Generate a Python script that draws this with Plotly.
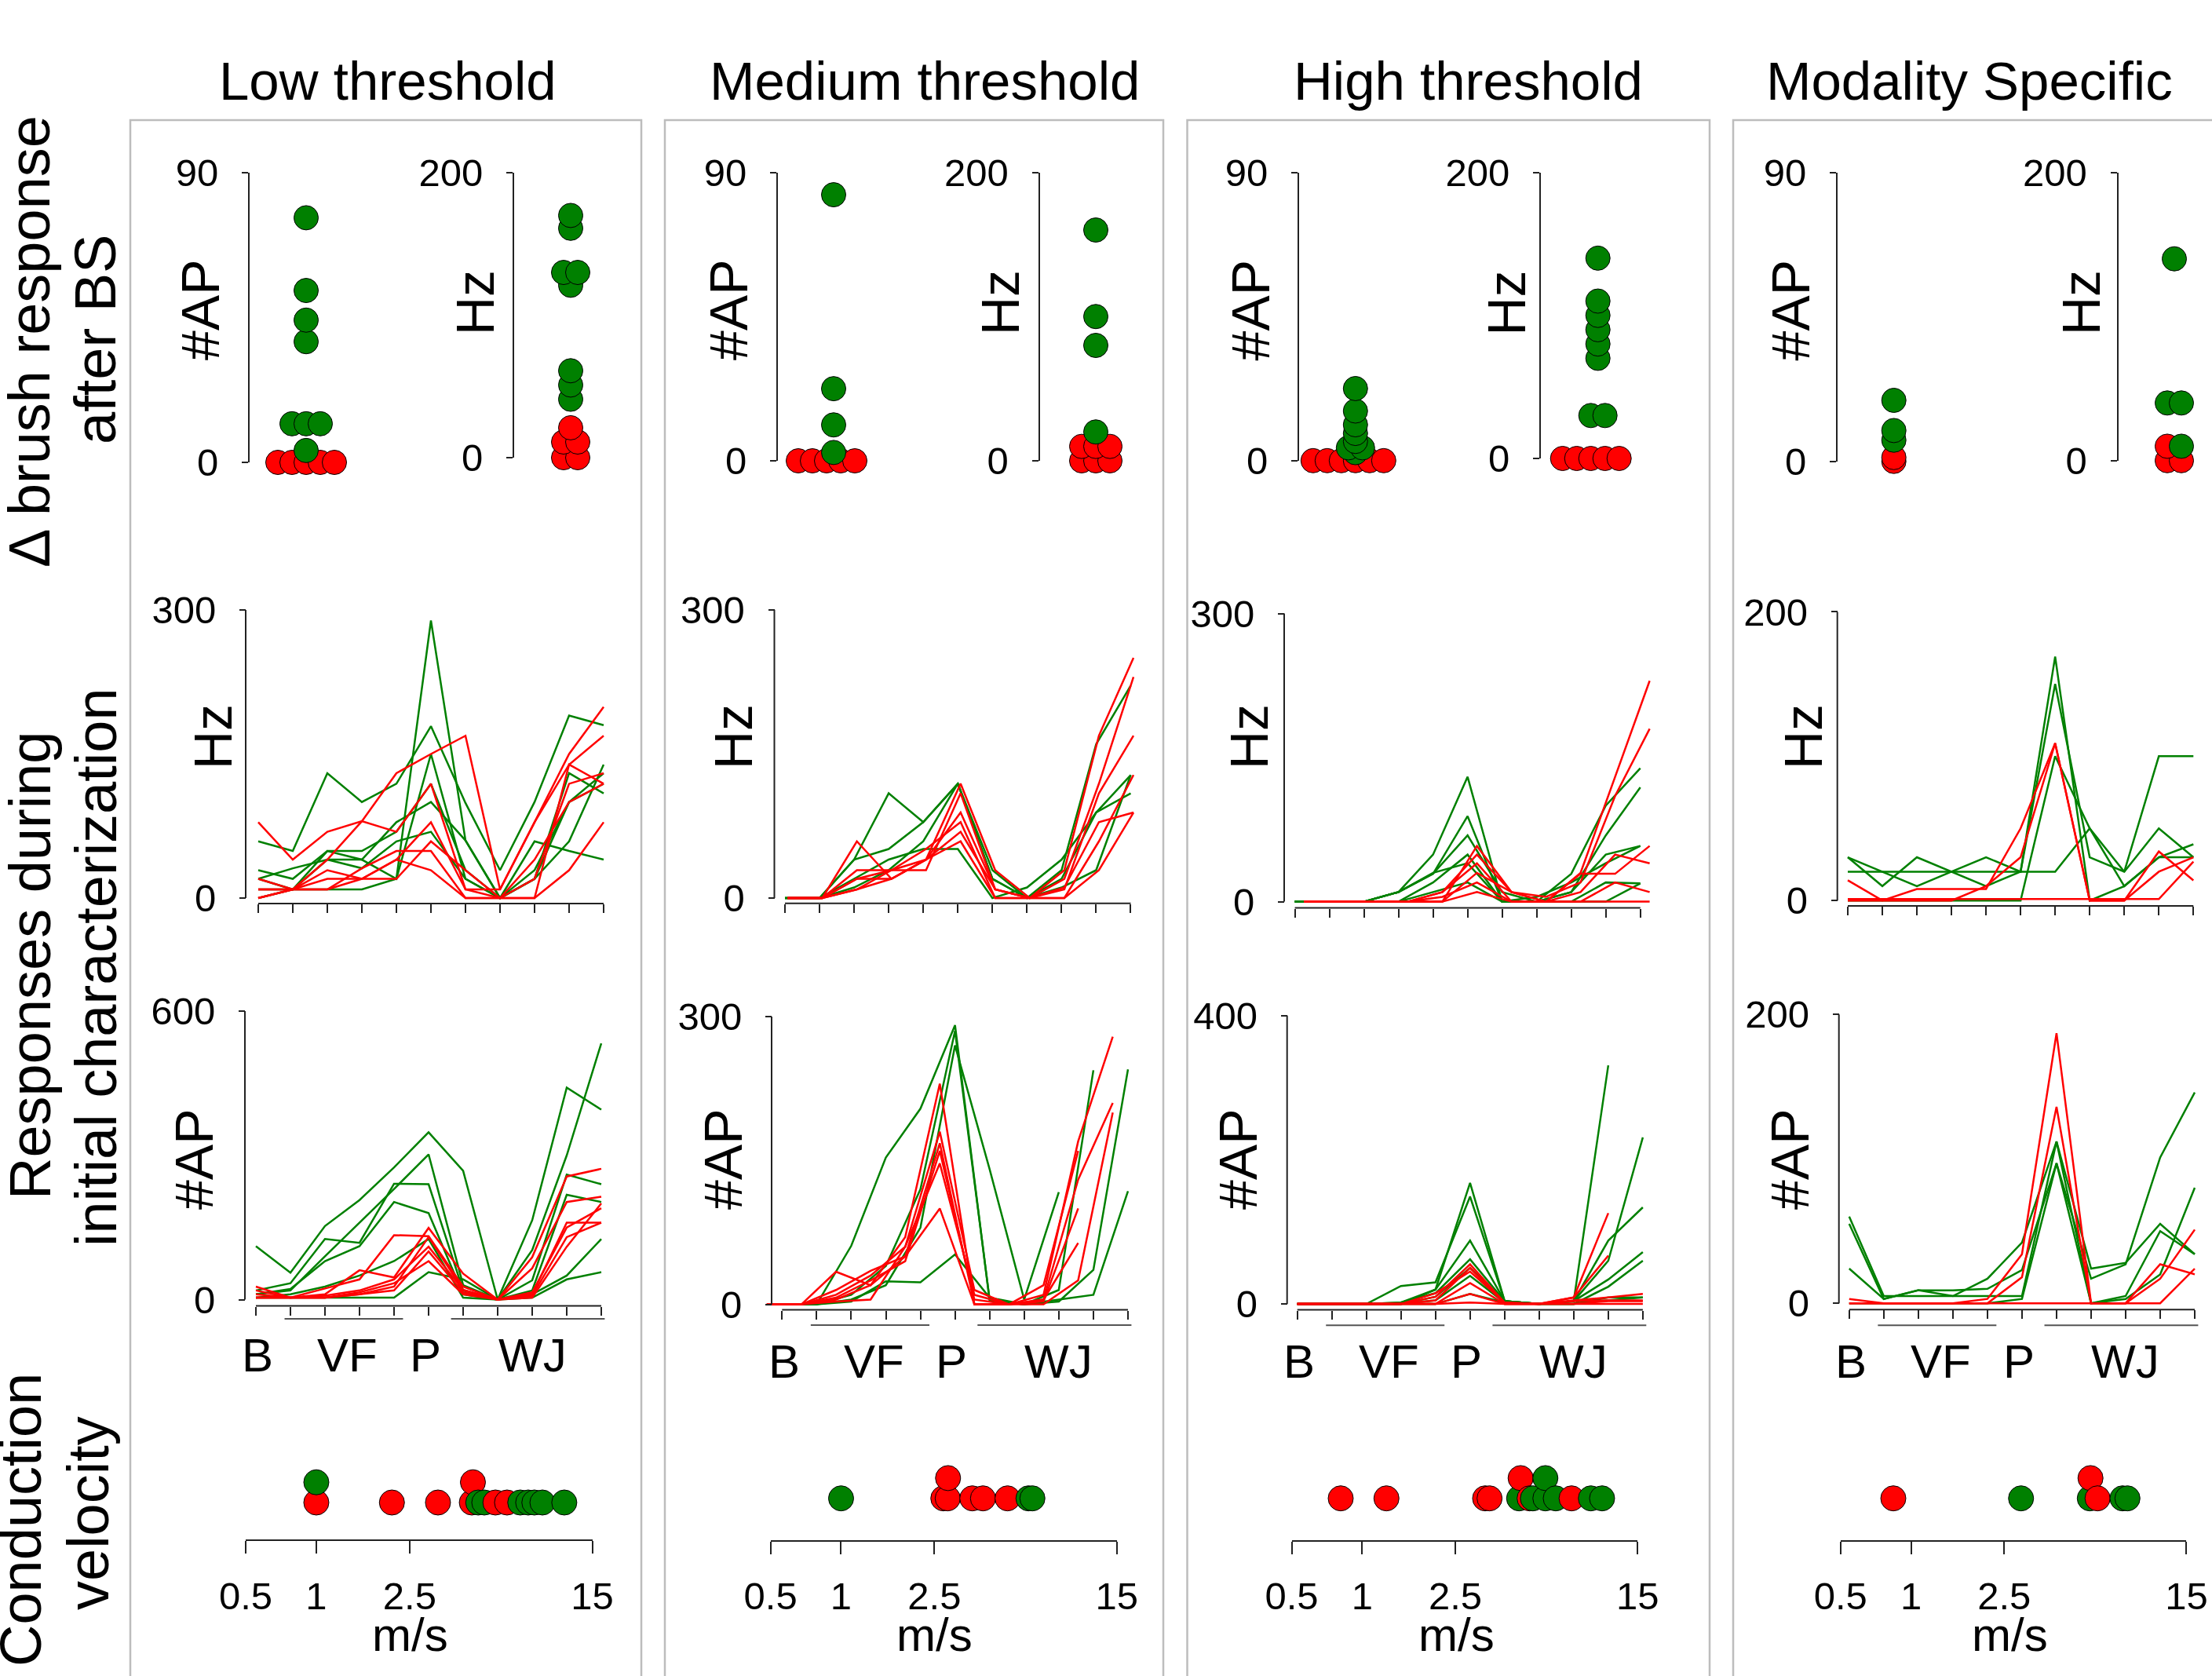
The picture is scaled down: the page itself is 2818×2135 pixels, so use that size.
import math
import plotly.graph_objects as go

# ======================= DATA =======================
COLUMN_TITLES = ["Low threshold", "Medium threshold", "High threshold", "Modality Specific"]
ROW_LABELS = [["Δ brush response", "after BS"],
              ["Responses during", "initial characterization"],
              ["Conduction", "velocity"]]
STIM_POS = list(range(1, 12))          # B, VF x4, P, WJ x5
STIM_LABELS = ["B", "VF", "P", "WJ"]
CV_TICKS = [0.5, 1, 2.5, 15]
CV_TICKTEXT = ["0.5", "1", "2.5", "15"]
AP_TOP = 90
HZ_TOP = 200
HZ_LINE_TOP = [300, 300, 300, 200]
AP_LINE_TOP = [600, 300, 400, 200]

# --- row 1 : change of brush response after BS ---
LOW_AP_GREEN = [76, 53.4, 44.2, 37.5, 12, 12, 12, 3.7]
LOW_AP_RED = [0, 0, 0, 0, 0, -1, -3]
LOW_HZ_GREEN = [170, 161, 130, 130, 121, 61, 51, 41]
LOW_HZ_RED = [21, 11, 11, 0, 0, -20, -30]
MED_AP_GREEN = [83, 22.5, 11.2, 2.6]
MED_AP_RED = [0, 0, 0, 0, 0, 0]
MED_HZ_GREEN = [160, 100, 80, 20]
MED_HZ_RED = [10, 10, 10, 0, 0, 0]
HIGH_AP_GREEN = [22.5, 15.5, 11.2, 8.5, 6.0, 4.0, 4.0, 2.5]
HIGH_AP_RED = [0, 0, 0, 0, 0, 0, 0]
HIGH_HZ_GREEN = [140, 110, 100, 90, 80, 70, 30, 30]
HIGH_HZ_RED = [0, 0, 0, 0, 0, 0, -10]
MOD_AP_GREEN = [19, 9.6, 6.6]
MOD_AP_RED = [1.2, 0]
MOD_HZ_GREEN = [140, 40, 40, 10]
MOD_HZ_RED = [10, 0, 0]

# --- row 2 : Hz during initial characterization ---
LOW_HZ_GREEN_LINES = [
    [59, 49, 130, 100, 119, 179, 99, 29, 100, 190, 180],
    [20, 9, 40, 40, 20, 289, 60, 0, 20, 100, 130],
    [29, 20, 49, 40, 79, 100, 60, 0, 20, 130, 109],
    [20, 31, 40, 31, 59, 69, 20, 0, 59, 49, 40],
    [0, 9, 9, 9, 20, 150, 20, 0, 20, 59, 139],
    [9, 9, 49, 49, 69, 119, 29, 0, 29, 100, 119],
]
LOW_HZ_RED_LINES = [
    [79, 40, 69, 80, 69, 119, 9, 9, 79, 139, 169],
    [9, 9, 40, 80, 130, 150, 169, 9, 79, 150, 199],
    [0, 9, 29, 20, 40, 79, 9, 0, 20, 119, 130],
    [20, 9, 20, 20, 20, 59, 29, 0, 0, 139, 119],
    [0, 9, 9, 31, 49, 49, 0, 0, 0, 29, 79],
    [9, 9, 9, 20, 40, 29, 0, 0, 40, 100, 119],
]
MED_HZ_GREEN_LINES = [
    [0, 0, 40, 109, 79, 119, 20, 0, 29, 160, 221],
    [0, 0, 40, 51, 79, 119, 29, 0, 20, 89, 109],
    [0, 0, 20, 40, 51, 51, 0, 11, 40, 89, 128],
    [0, 0, 11, 29, 59, 119, 20, 0, 11, 29, 128],
]
MED_HZ_RED_LINES = [
    [0, 0, 59, 20, 40, 119, 29, 0, 29, 169, 250],
    [0, 0, 29, 29, 29, 109, 9, 0, 20, 119, 230],
    [0, 0, 20, 20, 40, 89, 9, 0, 9, 109, 169],
    [0, 0, 9, 29, 51, 79, 0, 0, 0, 59, 128],
    [0, 0, 20, 29, 40, 69, 9, 0, 11, 79, 89],
    [0, 0, 9, 20, 40, 59, 0, 0, 0, 29, 89],
]
HIGH_HZ_GREEN_LINES = [
    [0, 0, 0, 10, 49, 130, 0, 0, 29, 100, 139],
    [0, 0, 0, 10, 29, 89, 0, 0, 10, 69, 119],
    [0, 0, 0, 10, 29, 69, 10, 0, 10, 49, 58],
    [0, 0, 0, 0, 20, 49, 0, 5, 20, 40, 58],
    [0, 0, 0, 10, 30, 40, 0, 0, 0, 20, 19],
    [0, 0, 0, 0, 10, 20, 0, 0, 0, 0, 19],
]
HIGH_HZ_RED_LINES = [
    [0, 0, 0, 0, 0, 58, 10, 0, 30, 130, 230],
    [0, 0, 0, 0, 10, 49, 10, 5, 20, 110, 180],
    [0, 0, 0, 0, 0, 30, 10, 0, 29, 29, 58],
    [0, 0, 0, 0, 10, 40, 0, 0, 10, 49, 40],
    [0, 0, 0, 0, 5, 20, 0, 0, 0, 20, 10],
    [0, 0, 0, 0, 0, 10, 0, 0, 0, 0, 0],
]
MOD_HZ_GREEN_LINES = [
    [30, 10, 30, 20, 10, 20, 169, 0, 10, 30, 30],
    [20, 20, 20, 20, 20, 20, 20, 50, 10, 30, 39],
    [30, 20, 10, 20, 30, 20, 150, 30, 20, 50, 30],
    [0, 0, 0, 0, 0, 0, 100, 50, 20, 100, 100],
]
MOD_HZ_RED_LINES = [
    [14, 0, 8, 8, 8, 50, 109, 0, 0, 20, 30],
    [0, 0, 0, 0, 10, 30, 109, 0, 0, 34, 14],
    [1, 1, 1, 1, 1, 1, 1, 1, 1, 1, 27],
]

# --- row 3 : #AP during initial characterization ---
LOW_AP_GREEN_LINES = [
    [111, 56, 153, 207, 275, 348, 268, 0, 165, 441, 395],
    [19, 34, 126, 118, 241, 240, 19, 0, 103, 300, 533],
    [11, 22, 80, 111, 203, 180, 11, 0, 19, 218, 203],
    [4, 11, 27, 50, 80, 126, 4, 0, 11, 50, 126],
    [4, 4, 4, 4, 4, 57, 42, 0, 4, 42, 57],
    [11, 19, 90, 160, 230, 302, 30, 0, 40, 260, 240],
]
LOW_AP_RED_LINES = [
    [27, 4, 11, 61, 46, 149, 54, 0, 88, 256, 272],
    [19, 4, 23, 42, 134, 132, 27, 0, 65, 203, 214],
    [4, 4, 4, 11, 27, 130, 20, 0, 11, 160, 160],
    [4, 4, 4, 11, 19, 100, 15, 0, 8, 130, 160],
    [11, 4, 4, 15, 34, 80, 11, 0, 4, 110, 200],
    [4, 4, 8, 19, 42, 110, 20, 0, 15, 150, 190],
]
MED_AP_GREEN_LINES = [
    [0, 0, 61, 153, 204, 291, 4, 0, 3, 36, 245],
    [0, 0, 10, 40, 120, 285, 5, 0, 15, 244, None],
    [0, 0, 3, 24, 23, 52, 7, 0, 5, 10, 118],
    [0, 0, 5, 20, 80, 270, 141, 5, 117, None, None],
]
MED_AP_RED_LINES = [
    [0, 0, 34, 20, 70, 230, 0, 0, 10, 170, 279],
    [0, 0, 10, 30, 60, 180, 15, 0, 20, 160, None],
    [0, 0, 5, 20, 50, 168, 0, 0, 5, 130, 210],
    [0, 0, 3, 5, 60, 147, 10, 0, 3, 100, None],
    [0, 0, 15, 35, 50, 100, 0, 0, 0, 25, 200],
    [0, 0, 7, 25, 45, 160, 5, 0, 5, 64, None],
]
HIGH_AP_GREEN_LINES = [
    [0, 0, 0, 0, 20, 168, 4, 0, 4, 331, None],
    [0, 0, 0, 25, 30, 149, 4, 0, 4, 60, 231],
    [0, 0, 0, 2, 20, 88, 4, 0, 4, 88, 134],
    [0, 0, 0, 2, 15, 62, 4, 0, 4, 34, 72],
    [0, 0, 0, 0, 10, 50, 4, 0, 0, 24, 60],
    [0, 0, 0, 0, 5, 39, 2, 0, 0, 9, 9],
    [0, 0, 0, 0, 0, 14, 2, 0, 0, 5, 9],
]
HIGH_AP_RED_LINES = [
    [0, 0, 0, 0, 10, 55, 2, 0, 9, 126, None],
    [0, 0, 0, 0, 5, 50, 0, 0, 9, 67, None],
    [0, 0, 0, 0, 15, 45, 2, 0, 5, 9, 14],
    [0, 0, 0, 0, 0, 29, 0, 0, 4, 5, 5],
    [0, 0, 0, 0, 0, 14, 0, 0, 0, 4, 4],
    [0, 0, 0, 0, 0, 2, 0, 0, 0, 0, 0],
]
MOD_AP_GREEN_LINES = [
    [60, 5, 5, 5, 5, 5, 112, 0, 5, 50, 34],
    [55, 3, 9, 5, 17, 42, 112, 24, 28, 55, 34],
    [24, 3, 9, 9, 10, 23, 97, 17, 27, 101, 146],
    [0, 0, 0, 0, 0, 3, 97, 0, 3, 20, 80],
]
MOD_AP_RED_LINES = [
    [3, 0, 0, 0, 3, 34, 187, 0, 0, 27, 20],
    [0, 0, 0, 0, 0, 18, 136, 0, 0, 17, 51],
    [0, 0, 0, 0, 0, 0, 0, 0, 0, 0, 24],
]

# --- row 4 : conduction velocity (m/s) ---
LOW_CV_GREEN = [1.0, 4.9, 5.2, 7.4, 8.0, 8.5, 9.2, 11.4]
LOW_CV_RED = [1.0, 2.1, 3.3, 4.6, 4.65, 5.8, 6.5]
MED_CV_GREEN = [1.0, 6.3, 6.55]
MED_CV_RED = [2.73, 2.85, 2.86, 3.63, 4.03, 5.13]
HIGH_CV_GREEN = [4.68, 5.36, 6.06, 6.06, 6.71, 9.48, 10.58]
HIGH_CV_RED = [0.81, 1.27, 3.35, 3.5, 4.75, 5.19, 7.84]
MOD_CV_GREEN = [2.95, 5.8, 8.0, 8.4]
MOD_CV_RED = [0.84, 5.84, 6.26]

COLUMNS = [
    dict(ap=(LOW_AP_GREEN, LOW_AP_RED), hz=(LOW_HZ_GREEN, LOW_HZ_RED),
         hzl=(LOW_HZ_GREEN_LINES, LOW_HZ_RED_LINES), apl=(LOW_AP_GREEN_LINES, LOW_AP_RED_LINES),
         cv=(LOW_CV_GREEN, LOW_CV_RED)),
    dict(ap=(MED_AP_GREEN, MED_AP_RED), hz=(MED_HZ_GREEN, MED_HZ_RED),
         hzl=(MED_HZ_GREEN_LINES, MED_HZ_RED_LINES), apl=(MED_AP_GREEN_LINES, MED_AP_RED_LINES),
         cv=(MED_CV_GREEN, MED_CV_RED)),
    dict(ap=(HIGH_AP_GREEN, HIGH_AP_RED), hz=(HIGH_HZ_GREEN, HIGH_HZ_RED),
         hzl=(HIGH_HZ_GREEN_LINES, HIGH_HZ_RED_LINES), apl=(HIGH_AP_GREEN_LINES, HIGH_AP_RED_LINES),
         cv=(HIGH_CV_GREEN, HIGH_CV_RED)),
    dict(ap=(MOD_AP_GREEN, MOD_AP_RED), hz=(MOD_HZ_GREEN, MOD_HZ_RED),
         hzl=(MOD_HZ_GREEN_LINES, MOD_HZ_RED_LINES), apl=(MOD_AP_GREEN_LINES, MOD_AP_RED_LINES),
         cv=(MOD_CV_GREEN, MOD_CV_RED)),
]

# ======================= STYLE / GEOMETRY (pixels) =======================
W, H = 2818, 2135
FONT = "Liberation Sans, Arial, Helvetica, sans-serif"
GREEN = "#008000"
RED = "#FF0000"
AXC = "#222222"
BOXC = "#BDBDBD"
MSIZE = 31
SWARM_STEP = 18
TICK_FONT = 49
TITLE_FONT = 69
ROW_FONT = 74
AXT_FONT = 68
CAT_FONT = 60
Y_STANDOFF = 20
X_STANDOFF = 12

GEO = [
    dict(box=(166, 817), title_x=494,
         ap_ax=317, ap_pts=390, ap_y0=589, ap_yt=220, ap_lab=255,
         hz_ax=654, hz_pts=727, hz_y0=583, hz_yt=220, hz_lab=605,
         r2_yax=313, r2_y0=1144, r2_yt=777, r2_xax=1151, r2_xt=(329, 769), r2_lab=271, r2_shift=0.0,
         r3_yax=312, r3_y0=1655.5, r3_yt=1288, r3_xax=1663.5, r3_xt=(326, 766), r3_lab=247, r3_shift=0.0,
         cat_y=1726, uline_y=1680,
         cv_ax=1962, cv_x=(313, 754.5), cv_base=1914, mps_x=522),
    dict(box=(847, 1482), title_x=1178,
         ap_ax=990, ap_pts=1062, ap_y0=587, ap_yt=219.5, ap_lab=928,
         hz_ax=1323.6, hz_pts=1396, hz_y0=587, hz_yt=219.5, hz_lab=1274,
         r2_yax=986.5, r2_y0=1144, r2_yt=776.7, r2_xax=1150.8, r2_xt=(1000, 1440.5), r2_lab=934, r2_shift=0.08,
         r3_yax=983, r3_y0=1661.6, r3_yt=1295, r3_xax=1668.6, r3_xt=(996.3, 1437), r3_lab=921, r3_shift=-0.44,
         cat_y=1734, uline_y=1688,
         cv_ax=1962.6, cv_x=(981.6, 1422.7), cv_base=1908.7, mps_x=1190.5),
    dict(box=(1512.5, 2178), title_x=1870,
         ap_ax=1654, ap_pts=1726.8, ap_y0=586.8, ap_yt=219.5, ap_lab=1592.5,
         hz_ax=1962, hz_pts=2035.7, hz_y0=584, hz_yt=219.5, hz_lab=1918.5,
         r2_yax=1636, r2_y0=1148.6, r2_yt=781.6, r2_xax=1156.6, r2_xt=(1649.6, 2089.7), r2_lab=1591, r2_shift=0.27,
         r3_yax=1639.7, r3_y0=1661.1, r3_yt=1293.7, r3_xax=1668.6, r3_xt=(1652.7, 2092.9), r3_lab=1577, r3_shift=0.0,
         cat_y=1734, uline_y=1688.3,
         cv_ax=1962.6, cv_x=(1645.5, 2086.2), cv_base=1908.7, mps_x=1855.6),
    dict(box=(2208, 2840), title_x=2509,
         ap_ax=2340, ap_pts=2412.7, ap_y0=587.7, ap_yt=219.5, ap_lab=2280.5,
         hz_ax=2697.5, hz_pts=2770, hz_y0=586.8, hz_yt=219.5, hz_lab=2651,
         r2_yax=2340.7, r2_y0=1147.2, r2_yt=779.4, r2_xax=1154, r2_xt=(2354, 2794.3), r2_lab=2297, r2_shift=0.0,
         r3_yax=2342.7, r3_y0=1660.2, r3_yt=1292.3, r3_xax=1668.2, r3_xt=(2355.8, 2796), r3_lab=2280, r3_shift=0.0,
         cat_y=1734, uline_y=1688.3,
         cv_ax=1962.6, cv_x=(2344.8, 2785.4), cv_base=1908.7, mps_x=2560.4),
]
CAT_X = [1.05, 3.65, 5.9, 9.0]
ULINES = [(1.83, 5.26), (6.65, 11.1)]

# ======================= BUILD =======================
fig = go.Figure()
lay = {}
shapes = []
annos = []
n_ax = [0]


def PX(x):
    return min(max(x / W, 0.0), 1.0)


def PXU(x):
    return x / W


def PY(y):
    return 1 - y / H


def new_pair(xa, ya):
    n_ax[0] += 1
    s = "" if n_ax[0] == 1 else str(n_ax[0])
    xa.setdefault("anchor", "y" + s)
    ya.setdefault("anchor", "x" + s)
    lay["xaxis" + s] = xa
    lay["yaxis" + s] = ya
    return "x" + s, "y" + s


BASE = dict(showgrid=False, zeroline=False, fixedrange=True, automargin=False)
TFONT = dict(family=FONT, size=TICK_FONT, color="black")


def text(x, y, t, size, angle=0, xref="paper", yref="paper"):
    annos.append(dict(x=x, y=y, xref=xref, yref=yref, text=t, showarrow=False,
                      textangle=angle, xanchor="center", yanchor="middle",
                      font=dict(family=FONT, size=size, color="black")))


def strip(axis_x, pts_x, y0, yt, top, green, red):
    ppu = (y0 - yt) / top
    pts = [(v, RED) for v in red] + [(v, GREEN) for v in green]
    pts.sort(key=lambda p: p[0])
    groups = []
    for v, c in pts:
        if groups and abs(v - groups[-1][0][0]) * ppu < 3:
            groups[-1].append((v, c))
        else:
            groups.append([(v, c)])
    xs, ys, cs = [], [], []
    for grp in groups:
        n = len(grp)
        for i, (v, c) in enumerate(grp):
            xs.append((i - (n - 1) / 2) * SWARM_STEP)
            ys.append(v)
            cs.append(c)
    xl, xr_ = axis_x, min(axis_x + 115, W - 1)
    xa = dict(BASE, visible=False, domain=[PX(xl), PX(xr_)], range=[xl - pts_x, xr_ - pts_x])
    ya = dict(BASE, domain=[PY(y0), PY(yt)], range=[0, top], anchor="free", position=PX(axis_x),
              showline=True, linecolor=AXC, linewidth=2, ticks="outside", ticklen=8, tickwidth=2,
              tickcolor=AXC, tickvals=[0, top], ticktext=[str(0), str(top)], tickfont=TFONT,
              ticklabelstandoff=Y_STANDOFF)
    xr, yr = new_pair(xa, ya)
    fig.add_trace(go.Scatter(x=xs, y=ys, mode="markers", xaxis=xr, yaxis=yr, cliponaxis=False,
                             marker=dict(size=MSIZE, color=cs, line=dict(color="black", width=1)),
                             hoverinfo="skip", showlegend=False))


def line_panel(yax, y0, yt, top, xax, xt, greens, reds, shift):
    ppu = (y0 - yt) / top
    dx = (xt[1] - xt[0]) / 10
    pl = 0.5
    pr = min(0.45, (W - 1 - xt[1]) / dx)
    xa = dict(BASE, domain=[PX(xt[0] - pl * dx), PX(xt[1] + pr * dx)], range=[1 - pl, 11 + pr],
              anchor="free", position=PY(xax), ticks="outside", ticklen=11, tickwidth=2, tickcolor=AXC,
              tickvals=STIM_POS, showticklabels=False, showline=False)
    ya = dict(BASE, domain=[PY(y0 + 6), PY(yt - 6)], range=[-6 / ppu, top + 6 / ppu],
              anchor="free", position=PX(yax), ticks="outside", ticklen=8, tickwidth=2, tickcolor=AXC,
              tickvals=[0, top], ticktext=[str(0), str(top)], tickfont=TFONT,
              ticklabelstandoff=Y_STANDOFF, showline=False)
    xr, yr = new_pair(xa, ya)
    for vals in greens:
        fig.add_trace(go.Scatter(x=STIM_POS, y=vals, mode="lines", xaxis=xr, yaxis=yr,
                                 line=dict(color=GREEN, width=2.5), hoverinfo="skip", showlegend=False))
    for vals in reds:
        fig.add_trace(go.Scatter(x=[p + shift for p in STIM_POS], y=vals, mode="lines", xaxis=xr, yaxis=yr,
                                 line=dict(color=RED, width=2.5), hoverinfo="skip", showlegend=False))
    shapes.append(dict(type="line", xref=xr, yref="paper", x0=STIM_POS[0], x1=STIM_POS[-1],
                       y0=PY(xax), y1=PY(xax), line=dict(color=AXC, width=2)))
    shapes.append(dict(type="line", xref="paper", yref=yr, x0=PX(yax), x1=PX(yax),
                       y0=0, y1=top, line=dict(color=AXC, width=2)))
    return xr


def cv_panel(ax_y, xr_px, base_y, green, red):
    lo, hi = math.log10(CV_TICKS[0]), math.log10(CV_TICKS[-1])
    ppd = (xr_px[1] - xr_px[0]) / (hi - lo)
    pts = [(v, RED) for v in red] + [(v, GREEN) for v in green]
    pts.sort(key=lambda p: p[0])
    placed = []
    xs, ys, cs = [], [], []
    for v, c in pts:
        level = 0
        while any(l == level and abs(math.log10(v) - math.log10(pv)) * ppd < 3.5 for pv, l in placed):
            level += 1
        placed.append((v, level))
        xs.append(v)
        ys.append(level * 25.8)
        cs.append(c)
    xa = dict(BASE, type="log", domain=[PX(xr_px[0]), PX(xr_px[1])], range=[lo, hi],
              anchor="free", position=PY(ax_y), showline=True, linecolor=AXC, linewidth=2,
              ticks="outside", ticklen=16, tickwidth=2, tickcolor=AXC, tickvals=CV_TICKS,
              ticktext=CV_TICKTEXT, tickfont=TFONT, ticklabelstandoff=X_STANDOFF)
    ya = dict(BASE, visible=False, domain=[PY(base_y + 30), PY(base_y - 60)], range=[-30, 60])
    xr, yr = new_pair(xa, ya)
    fig.add_trace(go.Scatter(x=xs, y=ys, mode="markers", xaxis=xr, yaxis=yr, cliponaxis=False,
                             marker=dict(size=MSIZE + 1, color=cs, line=dict(color="black", width=1)),
                             hoverinfo="skip", showlegend=False))


for ci, (g, d) in enumerate(zip(GEO, COLUMNS)):
    # column frame + title
    shapes.append(dict(type="rect", xref="paper", yref="paper", x0=PXU(g["box"][0]), x1=PXU(g["box"][1]),
                       y0=PY(2300), y1=PY(153), line=dict(color=BOXC, width=2.5), fillcolor="rgba(0,0,0,0)"))
    text(PX(g["title_x"]), PY(104), COLUMN_TITLES[ci], TITLE_FONT)

    # row 1
    strip(g["ap_ax"], g["ap_pts"], g["ap_y0"], g["ap_yt"], AP_TOP, d["ap"][0], d["ap"][1])
    text(PX(g["ap_lab"]), PY(395), "#AP", AXT_FONT, -90)
    strip(g["hz_ax"], g["hz_pts"], g["hz_y0"], g["hz_yt"], HZ_TOP, d["hz"][0], d["hz"][1])
    text(PX(g["hz_lab"]), PY(386), "Hz", AXT_FONT, -90)

    # row 2
    line_panel(g["r2_yax"], g["r2_y0"], g["r2_yt"], HZ_LINE_TOP[ci], g["r2_xax"], g["r2_xt"],
               d["hzl"][0], d["hzl"][1], g["r2_shift"])
    text(PX(g["r2_lab"]), PY(939), "Hz", AXT_FONT, -90)

    # row 3
    xr3 = line_panel(g["r3_yax"], g["r3_y0"], g["r3_yt"], AP_LINE_TOP[ci], g["r3_xax"], g["r3_xt"],
                     d["apl"][0], d["apl"][1], g["r3_shift"])
    text(PX(g["r3_lab"]), PY(1477), "#AP", AXT_FONT, -90)
    for lab, cx in zip(STIM_LABELS, CAT_X):
        text(cx, PY(g["cat_y"]), lab, CAT_FONT, 0, xref=xr3)
    for a, b in ULINES:
        shapes.append(dict(type="line", xref=xr3, yref="paper", x0=a, x1=b,
                           y0=PY(g["uline_y"]), y1=PY(g["uline_y"]), line=dict(color="#555555", width=2)))

    # row 4
    cv_panel(g["cv_ax"], g["cv_x"], g["cv_base"], d["cv"][0], d["cv"][1])
    text(PX(g["mps_x"]), PY(2082), "m/s", CAT_FONT)

# row labels
text(PX(37), PY(435), ROW_LABELS[0][0], ROW_FONT, -90)
text(PX(121), PY(433), ROW_LABELS[0][1], ROW_FONT, -90)
text(PX(38), PY(1230), ROW_LABELS[1][0], ROW_FONT, -90)
text(PX(122), PY(1232), ROW_LABELS[1][1], ROW_FONT, -90)
text(PX(26), PY(1936), ROW_LABELS[2][0], ROW_FONT, -90)
text(PX(112), PY(1928), ROW_LABELS[2][1], ROW_FONT, -90)

fig.update_layout(width=W, height=H, autosize=False,
                  margin=dict(l=0, r=0, t=0, b=0, pad=0, autoexpand=False),
                  paper_bgcolor="white", plot_bgcolor="white", showlegend=False, hovermode=False,
                  font=dict(family=FONT, color="black"), shapes=shapes, annotations=annos, **lay)
fig.write_html("out.html")
